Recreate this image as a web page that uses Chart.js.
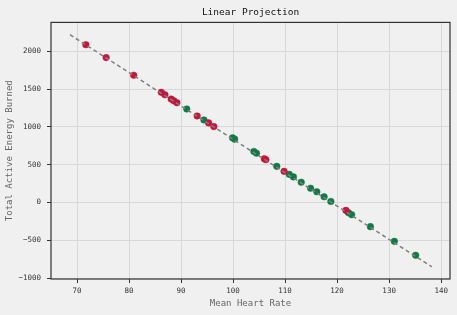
<!DOCTYPE html>
<html>
<head>
<meta charset="utf-8">
<script src="https://cdn.jsdelivr.net/npm/chart.js@4/dist/chart.umd.min.js"></script>
<style>
  html, body { margin: 0; padding: 0; background: #f0f0f0; }
  #wrap { width: 457px; height: 315px; }
</style>
</head>
<body>
<div id="wrap"><canvas id="myChart" width="457" height="315"></canvas></div>
<script>
// values
var redX = [71.7, 75.6, 80.9, 86.2, 86.9, 88.1, 88.6, 89.2, 93.1, 95.3, 96.3, 106.0, 106.3, 109.8, 121.7];
var redY = [2088, 1917, 1684, 1457, 1425, 1368, 1346, 1320, 1145, 1053, 1004, 579, 566, 412, -105];

var greenX = [91.1, 94.4, 99.9, 100.3, 104.0, 104.5, 108.4, 110.8, 111.6, 113.1, 114.9, 116.1, 117.5, 118.8, 122.2, 122.8, 126.4, 131.0, 135.1];
var greenY = [1237, 1092, 855, 838, 675, 652, 478, 372, 338, 267, 188, 141, 75, 13, -136, -162, -320, -515, -699];

var lineX = [68.65, 138.2];
var lineY = [2220, -851];

var xTicks = [70, 80, 90, 100, 110, 120, 130, 140];
var yTicks = [-1000, -500, 0, 500, 1000, 1500, 2000];

function pts(xs, ys) {
  return xs.map(function (x, i) { return {x: x, y: ys[i]}; });
}

function fmt(v) {
  return String(v).replace('-', '\u2212');
}

var FONT = "'DejaVu Sans Mono', monospace";

// page background + outer box around the plot
var frame = {
  id: 'frame',
  beforeDraw: function (chart) {
    var c = chart.ctx;
    c.save();
    c.fillStyle = '#f0f0f0';
    c.fillRect(0, 0, chart.width, chart.height);
    c.restore();
  },
  afterDatasetsDraw: function (chart) {
    var a = chart.chartArea, c = chart.ctx;
    c.save();
    c.strokeStyle = '#333333';
    c.lineWidth = 1.2;
    c.strokeRect(a.left, a.top, a.right - a.left, a.bottom - a.top);
    c.restore();
  }
};

var ctx = document.getElementById('myChart');
var myChart = new Chart(ctx, {
  type: 'scatter',
  data: {
    datasets: [
      {
        type: 'line',
        data: pts(lineX, lineY),
        borderColor: '#808080',
        borderWidth: 1.5,
        borderDash: [4, 3],
        pointRadius: 0,
        fill: false
      },
      {
        data: pts(redX, redY),
        backgroundColor: '#c3163a',
        borderColor: '#c3163a',
        pointRadius: 3.3,
        borderWidth: 0.5
      },
      {
        data: pts(greenX, greenY),
        backgroundColor: '#107a47',
        borderColor: '#107a47',
        pointRadius: 3.3,
        borderWidth: 0.5
      }
    ]
  },
  options: {
    responsive: false,
    animation: false,
    layout: { padding: { top: 0, right: 7, bottom: 2, left: 0 } },
    plugins: {
      legend: { display: false },
      tooltip: { enabled: false },
      title: {
        display: true,
        text: 'Linear Projection',
        color: '#111111',
        fullSize: false,
        font: { family: FONT, size: 9.5, weight: 'normal' },
        padding: { top: 7, bottom: 4 }
      }
    },
    scales: {
      x: {
        type: 'linear',
        min: 65.0,
        max: 141.7,
        afterBuildTicks: function (s) { s.ticks = xTicks.map(function (v) { return {value: v}; }); },
        afterFit: function (s) { s.height = 34; },
        grid: { color: '#d8d8d8', lineWidth: 1, tickLength: 4, tickColor: '#333333' },
        border: { display: false },
        ticks: { color: '#333333', font: { family: FONT, size: 7.5 }, padding: 4, maxRotation: 0, callback: fmt },
        title: { display: true, text: 'Mean Heart Rate', color: '#666666', font: { family: FONT, size: 9 }, padding: { top: 3 } }
      },
      y: {
        type: 'linear',
        min: -1013,
        max: 2383,
        afterBuildTicks: function (s) { s.ticks = yTicks.map(function (v) { return {value: v}; }); },
        afterFit: function (s) { s.width = 51; },
        grid: { color: '#d8d8d8', lineWidth: 1, tickLength: 4, tickColor: '#333333' },
        border: { display: false },
        ticks: { color: '#333333', font: { family: FONT, size: 7.5 }, padding: 6, callback: fmt },
        title: { display: true, text: 'Total Active Energy Burned', color: '#666666', font: { family: FONT, size: 9 }, padding: { bottom: 0 } }
      }
    }
  },
  plugins: [frame]
});
</script>
</body>
</html>
